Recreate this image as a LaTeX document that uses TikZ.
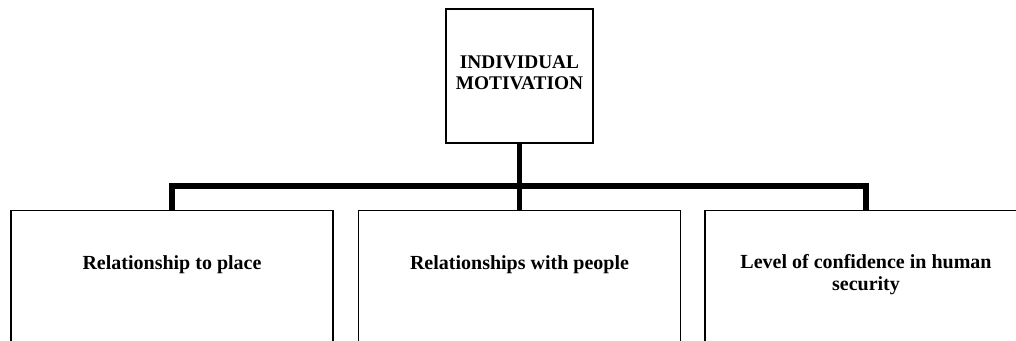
\documentclass[tikz,border=0pt]{standalone}
\usepackage{fontspec}
\setmainfont{Liberation Serif}
\usetikzlibrary{positioning}

\begin{document}
\begin{tikzpicture}[x=0.75pt,y=-0.75pt,
  topbox/.style={draw,line width=1pt,minimum width=110.25pt,minimum height=100.5pt,inner sep=0pt},
  catbox/.style={draw,line width=1pt,minimum width=241.5pt,minimum height=135pt,anchor=north,inner sep=0pt},
  boxtext/.style={font=\fontsize{14.5}{16}\selectfont\bfseries,align=center},
  cattext/.style={font=\fontsize{15}{16}\selectfont\bfseries,align=center},
  branch/.style={line width=3.9pt}]
\useasboundingbox (0,0) rectangle (1016,340);
\clip (0,0) rectangle (1016,340);
% top box
\node[topbox] (motiv) at (519.5,76) {};
\node[boxtext] (motivtext) at (519.5,73) {INDIVIDUAL\\MOTIVATION};
% three boxes below
\node[catbox] (place) at (172,210) {};
\node[catbox] (people) at (519.5,210) {};
\node[catbox] (security) at (866,210) {};
\node[cattext] (placetext) at (172,265) {Relationship to place};
\node[cattext] (peopletext) at (519.5,265) {Relationships with people};
\node[cattext] (securitytext) at (866,274.5) {Level of confidence in human\\security};
% connectors
\coordinate (fork) at (519.5,186);
\draw[branch] (motiv.south) -- (fork);
\draw[branch] (place.north) |- (fork) -| (security.north);
\draw[branch] (fork) -- (people.north);
\end{tikzpicture}
\end{document}
